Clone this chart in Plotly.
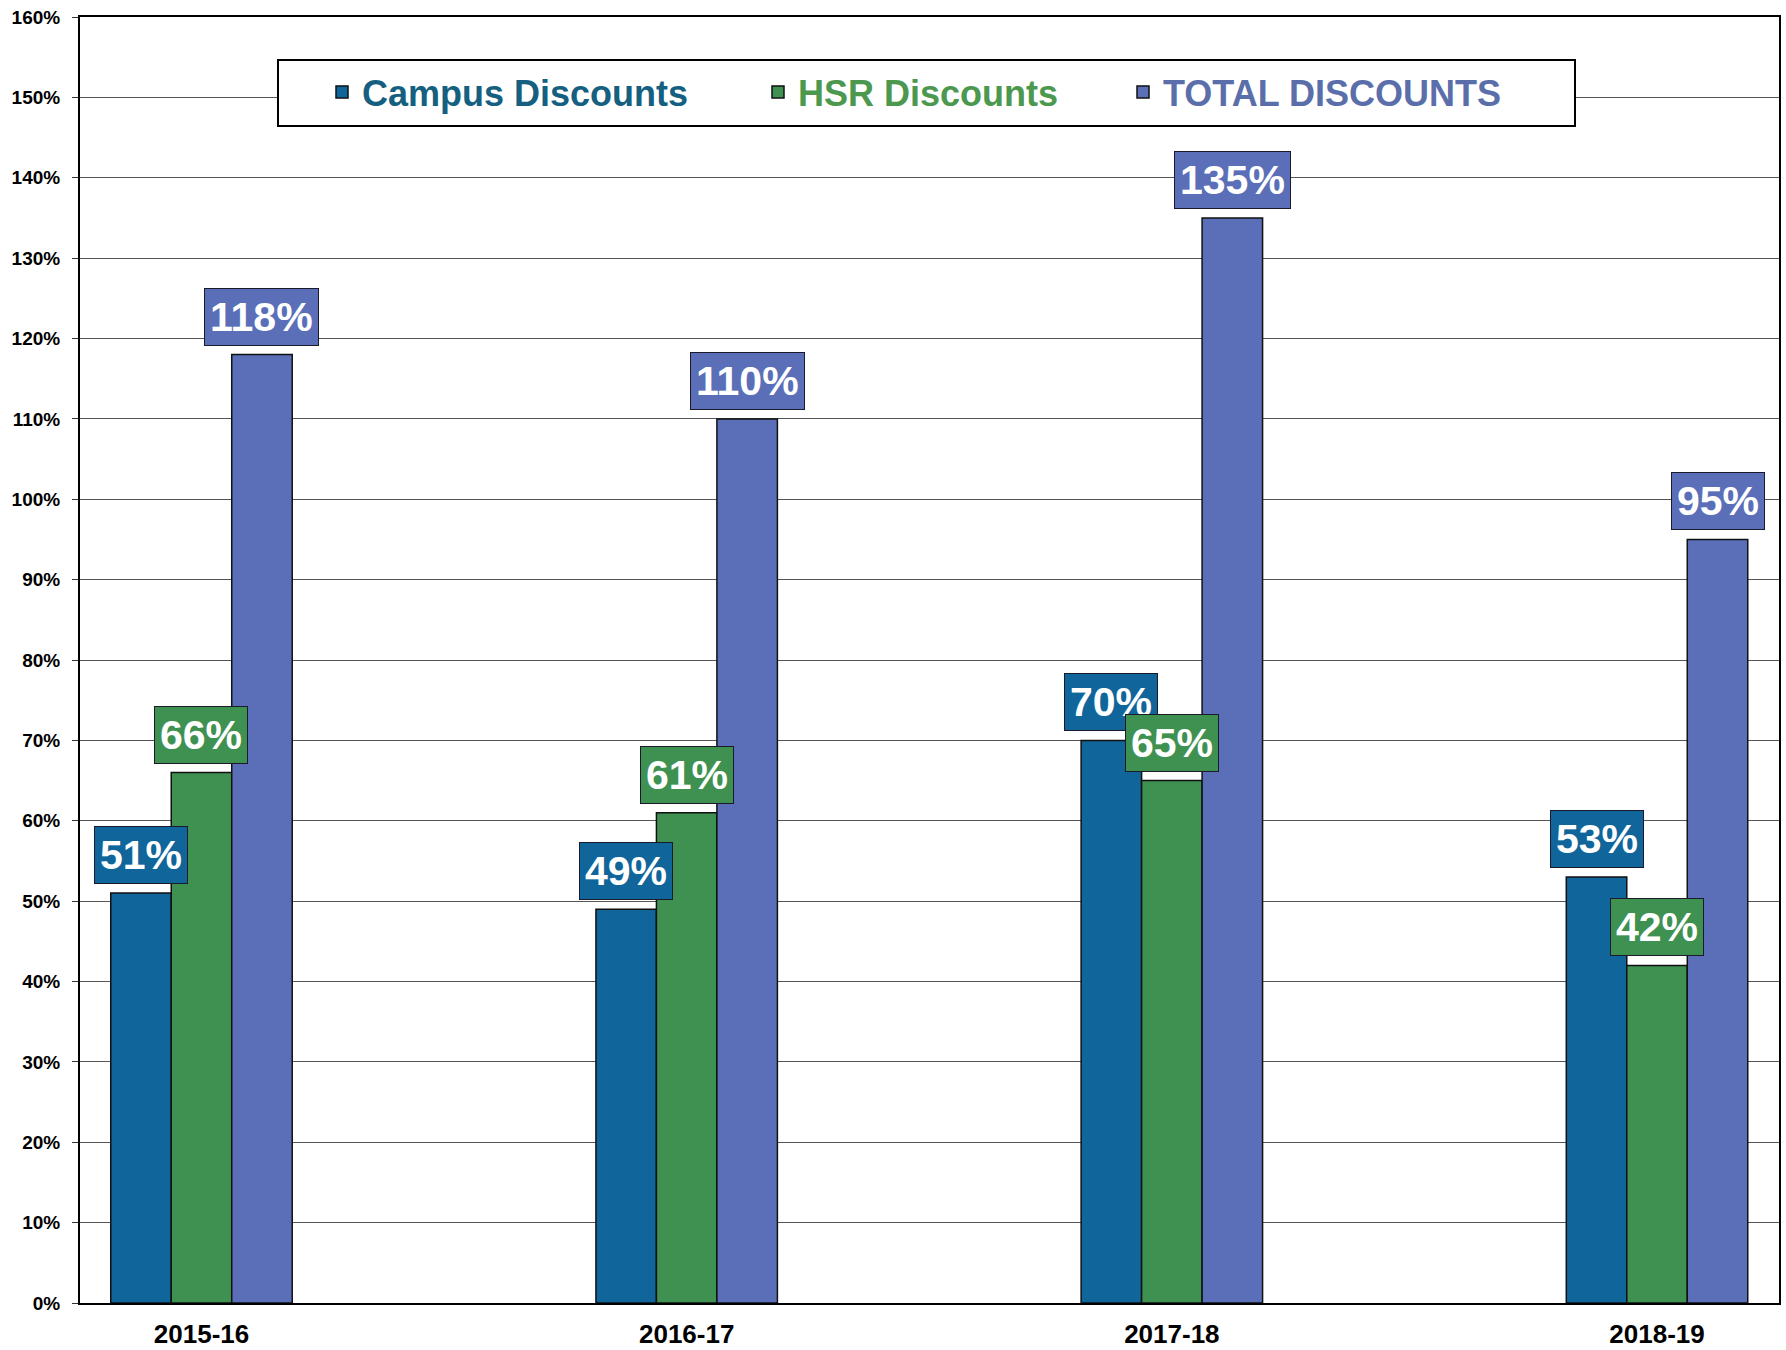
import plotly.graph_objects as go

years = ["2015-16", "2016-17", "2017-18", "2018-19"]
campus = [51, 49, 70, 53]
hsr = [66, 61, 65, 42]
total = [118, 110, 135, 95]
series_names = ["Campus Discounts", "HSR Discounts", "TOTAL DISCOUNTS"]
bar_colors = ["#10659a", "#3f9152", "#5a6fb8"]
text_colors = ["#155f80", "#4b984e", "#5a6eaa"]
y_ticks = list(range(0, 161, 10))

FONT = "Arial, Liberation Sans, sans-serif"
BARGAP = 0.626
legend_widths = [391, 320, 360]

fig = go.Figure()
all_series = [campus, hsr, total]
for name, vals, col, lw, tc in zip(series_names, all_series, bar_colors, legend_widths, text_colors):
    fig.add_trace(go.Bar(
        x=years, y=vals,
        name=f'<span style="color:{tc}"><b>{name}</b></span>',
        marker=dict(color=col, line=dict(color="#111111", width=1.5)),
        legendwidth=lw,
    ))

bar_w = (1 - BARGAP) / 3
annotations = []
for k, (vals, col) in enumerate(zip(all_series, bar_colors)):
    for i, v in enumerate(vals):
        annotations.append(dict(
            x=i + (k - 1) * bar_w, y=v, xref="x", yref="y",
            text=f"<b>{v}%</b>", showarrow=False,
            xanchor="center", yanchor="bottom", yshift=9,
            font=dict(family=FONT, size=41, color="white"),
            bgcolor=col, bordercolor="#1a1a2a", borderwidth=1, borderpad=5,
        ))

shapes = [dict(
    type="rect", xref="paper", yref="paper",
    x0=(278 - 80) / 1699, x1=(1575 - 80) / 1699,
    y0=(1303 - 126) / 1286, y1=(1303 - 60) / 1286,
    fillcolor="white", line=dict(color="black", width=2), layer="above",
)]

fig.update_layout(
    width=1786, height=1350,
    margin=dict(l=80, r=7, t=17, b=47, autoexpand=False),
    paper_bgcolor="white", plot_bgcolor="white",
    barmode="group", bargap=BARGAP, bargroupgap=0,
    font=dict(family=FONT, color="black"),
    showlegend=True,
    legend=dict(
        orientation="h", x=(322 - 80) / 1699, y=(1303 - 92) / 1286,
        xanchor="left", yanchor="middle",
        bgcolor="rgba(0,0,0,0)", borderwidth=0,
        font=dict(family=FONT, size=36),
    ),
    annotations=annotations,
    shapes=shapes,
    xaxis=dict(
        type="category", range=[-0.2504, 3.2514], automargin=False,
        showline=True, linecolor="black", linewidth=2, mirror=True,
        ticks="", tickfont=dict(family=FONT, size=26, color="black", weight="bold"),
        ticklabelstandoff=7, showgrid=False,
    ),
    yaxis=dict(
        range=[0, 160], tickvals=y_ticks, ticktext=[f"{t}%" for t in y_ticks],
        automargin=False,
        showline=True, linecolor="black", linewidth=2, mirror=True,
        ticks="outside", ticklen=6, tickcolor="#333",
        tickfont=dict(family=FONT, size=19, color="black", weight="bold"),
        ticklabelstandoff=8,
        showgrid=True, gridcolor="#555555", gridwidth=1.3, zeroline=False,
    ),
)

fig.write_html(
    "out.html",
    config={"displayModeBar": False},
    post_script="document.body.style.margin='0';document.body.style.overflow='hidden';",
)
